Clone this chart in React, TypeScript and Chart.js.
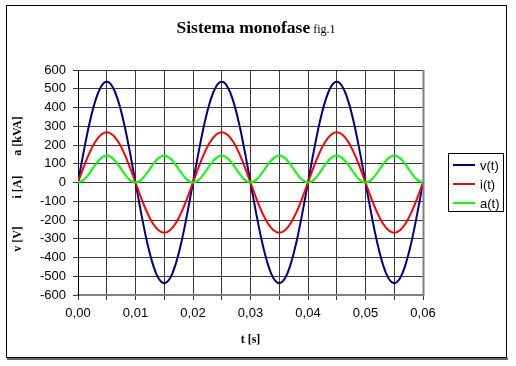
import React, { useEffect, useRef } from "react";
import { Chart, registerables } from "chart.js";

Chart.register(...registerables);

const times = [
  0, 0.001, 0.002, 0.003, 0.004, 0.005, 0.006, 0.007, 0.008, 0.009,
  0.01, 0.011, 0.012, 0.013, 0.014, 0.015, 0.016, 0.017, 0.018, 0.019,
  0.02, 0.021, 0.022, 0.023, 0.024, 0.025, 0.026, 0.027, 0.028, 0.029,
  0.03, 0.031, 0.032, 0.033, 0.034, 0.035, 0.036, 0.037, 0.038, 0.039,
  0.04, 0.041, 0.042, 0.043, 0.044, 0.045, 0.046, 0.047, 0.048, 0.049,
  0.05, 0.051, 0.052, 0.053, 0.054, 0.055, 0.056, 0.057, 0.058, 0.059,
  0.06,
];

const vValues = [
  0, 166, 316, 434, 511, 537, 511, 434, 316, 166,
  0, -166, -316, -434, -511, -537, -511, -434, -316, -166,
  0, 166, 316, 434, 511, 537, 511, 434, 316, 166,
  0, -166, -316, -434, -511, -537, -511, -434, -316, -166,
  0, 166, 316, 434, 511, 537, 511, 434, 316, 166,
  0, -166, -316, -434, -511, -537, -511, -434, -316, -166,
  0,
];

const iValues = [
  0, 83, 158, 217, 255, 268, 255, 217, 158, 83,
  0, -83, -158, -217, -255, -268, -255, -217, -158, -83,
  0, 83, 158, 217, 255, 268, 255, 217, 158, 83,
  0, -83, -158, -217, -255, -268, -255, -217, -158, -83,
  0, 83, 158, 217, 255, 268, 255, 217, 158, 83,
  0, -83, -158, -217, -255, -268, -255, -217, -158, -83,
  0,
];

const aValues = [
  0, 14, 50, 94, 130, 144, 130, 94, 50, 14,
  0, 14, 50, 94, 130, 144, 130, 94, 50, 14,
  0, 14, 50, 94, 130, 144, 130, 94, 50, 14,
  0, 14, 50, 94, 130, 144, 130, 94, 50, 14,
  0, 14, 50, 94, 130, 144, 130, 94, 50, 14,
  0, 14, 50, 94, 130, 144, 130, 94, 50, 14,
  0,
];

const seriesLabels = ["v(t)", "i(t)", "a(t)"];
const seriesColors = ["#000080", "#ff0000", "#00ff00"];
const yTitles = ["v [V]", "i [A]", "a [kVA]"];

const SANS = "'Liberation Sans', Arial, sans-serif";
const SERIF = "'Liberation Serif', 'Times New Roman', serif";

const decorPlugin = {
  id: "decor",
  beforeDraw(chart: any) {
    const ctx = chart.ctx;
    ctx.save();
    ctx.fillStyle = "#ffffff";
    ctx.fillRect(0, 0, chart.width, chart.height);
    ctx.restore();
  },
  afterDraw(chart: any) {
    const ctx = chart.ctx;
    const ca = chart.chartArea;
    ctx.save();
    // outer frame
    ctx.strokeStyle = "#000000";
    ctx.lineWidth = 1;
    ctx.strokeRect(6.5, 5.5, 500, 352);
    ctx.fillStyle = "#666666";
    ctx.fillRect(7, 358, 501, 2);

    // plot right border
    ctx.fillStyle = "#808080";
    ctx.fillRect(ca.right - 0.5, ca.top, 2, ca.bottom - ca.top + 1);

    // title
    ctx.fillStyle = "#000000";
    ctx.textBaseline = "alphabetic";
    const t1 = "Sistema monofase";
    const t2 = " fig.1";
    ctx.font = `12px ${SERIF}`;
    const w2 = ctx.measureText(t2).width;
    ctx.font = `bold 17.5px ${SERIF}`;
    const w1 = ctx.measureText(t1).width;
    const cx = 256;
    const x0 = cx - (w1 + w2) / 2;
    ctx.textAlign = "left";
    ctx.fillText(t1, x0, 33);
    ctx.font = `12px ${SERIF}`;
    ctx.fillText(t2, x0 + w1, 33);

    // y titles
    ctx.font = `bold 12px ${SERIF}`;
    ctx.textAlign = "center";
    ctx.textBaseline = "middle";
    const ys = [239, 187, 136];
    yTitles.forEach((t, k) => {
      ctx.save();
      ctx.translate(18, ys[k]);
      ctx.rotate(-Math.PI / 2);
      ctx.fillText(t, 0, 0);
      ctx.restore();
    });

    // x title
    ctx.textBaseline = "middle";
    ctx.fillText("t [s]", (ca.left + ca.right) / 2, 340);

    // legend
    const lx = ca.right + 25;
    const ly = 153;
    ctx.strokeStyle = "#000000";
    ctx.lineWidth = 1;
    ctx.strokeRect(lx + 0.5, ly + 0.5, 55, 58);
    ctx.font = `13px ${SANS}`;
    ctx.textAlign = "left";
    ctx.textBaseline = "middle";
    chart.data.datasets.forEach((ds: any, k: number) => {
      const ry = ly + 12 + k * 19;
      ctx.strokeStyle = ds.borderColor;
      ctx.lineWidth = 2;
      ctx.beginPath();
      ctx.moveTo(lx + 5, ry);
      ctx.lineTo(lx + 27, ry);
      ctx.stroke();
      ctx.fillStyle = "#000000";
      ctx.fillText(ds.label, lx + 32, ry + 1);
    });
    ctx.restore();
  },
};

export default function App() {
  const ref = useRef<HTMLCanvasElement | null>(null);

  useEffect(() => {
    document.body.style.margin = "0";
    const canvas = ref.current;
    if (!canvas) return;
    const mk = (vals: number[]) => times.map((t, k) => ({ x: t, y: vals[k] }));
    const all = [vValues, iValues, aValues];
    const chart = new Chart(canvas, {
      type: "line",
      data: {
        datasets: all.map((vals, k) => ({
          label: seriesLabels[k],
          data: mk(vals),
          borderColor: seriesColors[k],
          backgroundColor: seriesColors[k],
          borderWidth: 2,
          pointRadius: 0,
          tension: 0.4,
          fill: false,
          order: 3 - k,
        })),
      },
      options: {
        animation: false,
        responsive: true,
        maintainAspectRatio: false,
        layout: { padding: { left: 0, right: 93, top: 70, bottom: 41 } },
        plugins: {
          legend: { display: false },
          tooltip: { enabled: false },
          title: { display: false },
        },
        scales: {
          x: {
            type: "linear",
            min: 0,
            max: 0.06,
            afterFit: (s: any) => {
              s.height = 30;
            },
            grid: {
              color: "#383838",
              lineWidth: 1,
              tickLength: 5,
              drawTicks: true,
            },
            border: { color: "#808080", width: 2 },
            ticks: {
              stepSize: 0.005,
              autoSkip: false,
              maxRotation: 0,
              padding: 6,
              color: "#000000",
              font: { family: SANS, size: 13 },
              callback: (v: any) =>
                Math.round(Number(v) * 1000) % 10 === 0
                  ? Number(v).toFixed(2).replace(".", ",")
                  : "",
            },
          },
          y: {
            min: -600,
            max: 600,
            afterFit: (s: any) => {
              s.width = 78;
            },
            grid: {
              color: "#383838",
              lineWidth: 1,
              tickLength: 5,
            },
            border: { color: "#000000", width: 1 },
            ticks: {
              stepSize: 100,
              padding: 7,
              color: "#000000",
              font: { family: SANS, size: 13 },
            },
          },
        },
      },
      plugins: [decorPlugin],
    } as any);
    return () => chart.destroy();
  }, []);

  return (
    <div style={{ width: 516, height: 366, position: "relative" }}>
      <canvas ref={ref} />
    </div>
  );
}
